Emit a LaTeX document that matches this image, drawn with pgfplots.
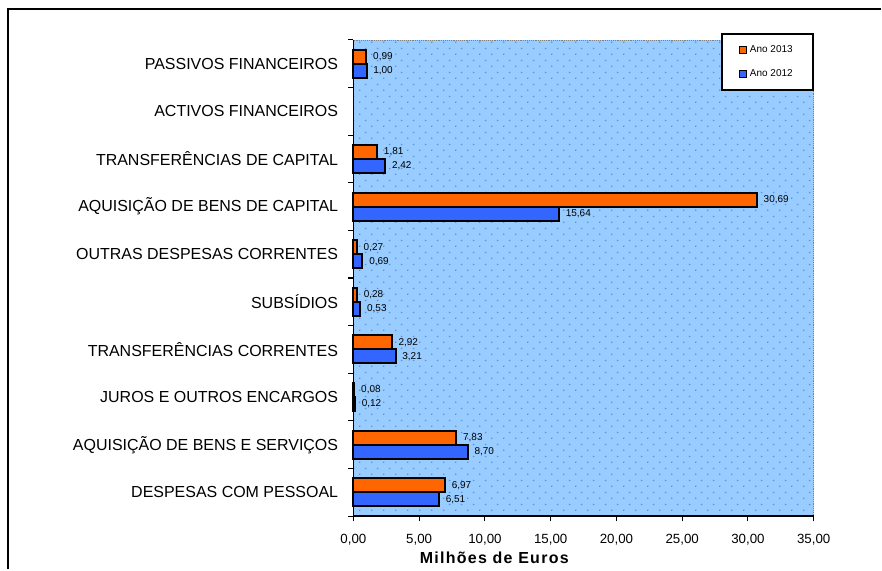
\documentclass[border=0pt]{standalone}
\usepackage{fontspec}
\setmainfont{Liberation Sans}
\usepackage{pgfplots}
\pgfplotsset{compat=1.18}
\usetikzlibrary{patterns.meta}

\definecolor{laranja}{HTML}{FF6600}
\definecolor{azul}{HTML}{3366FF}
\definecolor{fundo}{HTML}{99CCFF}
\definecolor{ponto}{HTML}{5C8CF0}

\tikzdeclarepattern{
  name=pontos, type=uncolored,
  bounding box={(0pt,0pt) and (9pt,9pt)},
  tile size={(9pt,9pt)},
  code={\fill (0pt,0pt) rectangle (1.1pt,1.1pt);
        \fill (4.5pt,4.5pt) rectangle (5.6pt,5.3pt);}
}

\begin{document}
\begin{tikzpicture}
% moldura (1px = 0.75pt)
\path[fill=white] (0,0) rectangle (661.5pt,427.5pt);
\draw[line width=2.2pt] (6pt,0) -- (6pt,420.75pt) -- (661.5pt,420.75pt);

\begin{axis}[
  at={(265.5pt,39.75pt)}, anchor=south west,
  scale only axis, width=345.75pt, height=357.75pt,
  xbar, bar width=10.5pt,
  xmin=0, xmax=35, ymin=-0.5, ymax=9.5,
  clip=false,
  axis background/.style={fill=fundo, draw=gray, densely dotted,
    postaction={pattern=pontos, pattern color=ponto}},
  axis x line*=bottom, axis y line*=left,
  axis line style={-, black, line width=1pt},
  tick align=outside, major tick length=4pt,
  xtick={0,5,...,35},
  xtick style={black, line width=0.8pt},
  xticklabel style={font=\fontsize{10}{12}\selectfont, yshift=-6pt,
    /pgf/number format/.cd, fixed, fixed zerofill, precision=2, use comma,
    assume math mode=true},
  ytick={0,...,9},
  ytick style={draw=none},
  yticklabels={DESPESAS COM PESSOAL, AQUISIÇÃO DE BENS E SERVIÇOS,
    JUROS E OUTROS ENCARGOS, TRANSFERÊNCIAS CORRENTES, SUBSÍDIOS,
    OUTRAS DESPESAS CORRENTES, AQUISIÇÃO DE BENS DE CAPITAL,
    TRANSFERÊNCIAS DE CAPITAL, ACTIVOS FINANCEIROS, PASSIVOS FINANCEIROS},
  yticklabel style={font=\fontsize{12}{14}\selectfont, xshift=-4pt},
  xlabel={\bfseries\addfontfeatures{LetterSpace=8}Milhões de Euros},
  xlabel style={at={(axis description cs:0.306,0)}, anchor=north,
    yshift=-23pt, font=\fontsize{12}{14}\selectfont},
  nodes near coords={\pgfmathprintnumber[fixed,fixed zerofill,precision=2,use comma,assume math mode=true]{\pgfplotspointmeta}},
  nodes near coords style={font=\fontsize{7.5}{9}\selectfont, black, anchor=west, xshift=1pt},
  legend image code/.code={\draw[#1, line width=0.7pt] (0pt,-2.8pt) rectangle (5.6pt,2.8pt);},
  legend style={at={(1,1.015)}, anchor=north east, draw=black, line width=1.5pt,
    fill=white, inner xsep=13pt, inner ysep=7pt, row sep=7pt,
    font=\fontsize{7.5}{9}\selectfont, cells={anchor=west}},
]
% Ano 2013
\addplot[fill=laranja, draw=black, line width=1.5pt, bar shift=5.25pt] coordinates {
  (6.97,0) (7.83,1) (0.08,2) (2.92,3) (0.28,4) (0.27,5) (30.69,6) (1.81,7) (0.99,9)};
% Ano 2012
\addplot[fill=azul, draw=black, line width=1.5pt, bar shift=-5.25pt] coordinates {
  (6.51,0) (8.70,1) (0.12,2) (3.21,3) (0.53,4) (0.69,5) (15.64,6) (2.42,7) (1.00,9)};
\legend{Ano 2013, Ano 2012}
% marcas entre categorias
\pgfplotsinvokeforeach{-0.5,0.5,...,9.5}{
  \draw[black, line width=0.8pt] (axis cs:0,#1) -- ([xshift=-4pt]axis cs:0,#1);
}
\end{axis}
\end{tikzpicture}
\end{document}
